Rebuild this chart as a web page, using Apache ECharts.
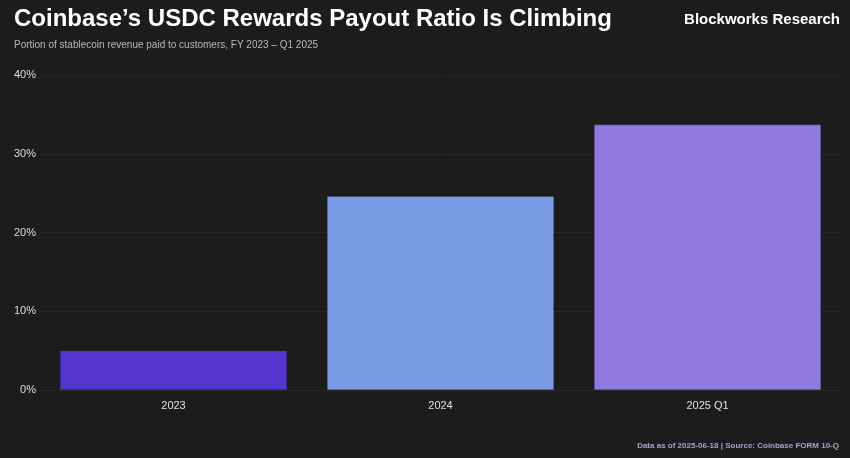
<!DOCTYPE html>
<html><head><meta charset="utf-8">
<script src="https://cdn.jsdelivr.net/npm/echarts@6/dist/echarts.min.js"></script>
<style>html,body{margin:0;padding:0;background:#1c1c1c}#c{width:850px;height:458px}</style>
</head><body><div id="c"></div>
<script>
const categories = ['2023', '2024', '2025 Q1'];
const payoutRatio = [5.0, 24.6, 33.7];
const barColors = ['#5535cf', '#7a9ce6', '#8e7ae0'];
const yTicks = [0, 10, 20, 30, 40];

const chart = echarts.init(document.getElementById('c'), null, {renderer: 'canvas'});
chart.setOption({
  backgroundColor: '#1c1c1c',
  animation: false,
  title: [
    {text: 'Coinbase’s USDC Rewards Payout Ratio Is Climbing', left: 14, top: 7, padding: 0,
     textStyle: {color: '#ffffff', fontSize: 24, fontWeight: 'bold', fontFamily: 'Liberation Sans'}},
    {text: 'Portion of stablecoin revenue paid to customers, FY 2023 – Q1 2025', left: 14, top: 40, padding: 0,
     textStyle: {color: '#b8b8b8', fontSize: 10, fontWeight: 'normal', fontFamily: 'Liberation Sans'}},
    {text: 'Blockworks Research', right: 10, top: 12, padding: 0,
     textStyle: {color: '#ffffff', fontSize: 15, fontWeight: 'bold', fontFamily: 'Liberation Sans'}},
    {text: 'Data as of 2025-06-18 | Source: Coinbase FORM 10-Q', right: 11, top: 442, padding: 0,
     textStyle: {color: '#a8a2c8', fontSize: 8, fontWeight: 'bold', fontFamily: 'Liberation Sans'}}
  ],
  grid: {left: 40, right: 9, top: 75, bottom: 68, containLabel: false},
  xAxis: {
    type: 'category', data: categories,
    axisLine: {show: false}, axisTick: {show: false},
    axisLabel: {color: '#e0e0e0', fontSize: 11, margin: 10, fontFamily: 'Liberation Sans'}
  },
  yAxis: {
    type: 'value', min: yTicks[0], max: yTicks[yTicks.length - 1], interval: 10,
    axisLabel: {formatter: '{value}%', color: '#dddddd', fontSize: 11, margin: 4, fontFamily: 'Liberation Sans'},
    splitLine: {lineStyle: {color: '#272727', width: 1}},
    axisLine: {show: false}, axisTick: {show: false}
  },
  series: [{
    type: 'bar', barCategoryGap: '15%',
    data: payoutRatio.map((v, i) => ({value: v, itemStyle: {color: barColors[i]}})),
    itemStyle: {borderColor: 'rgba(40,40,60,0.5)', borderWidth: 0.5}
  }]
});
</script></body></html>
